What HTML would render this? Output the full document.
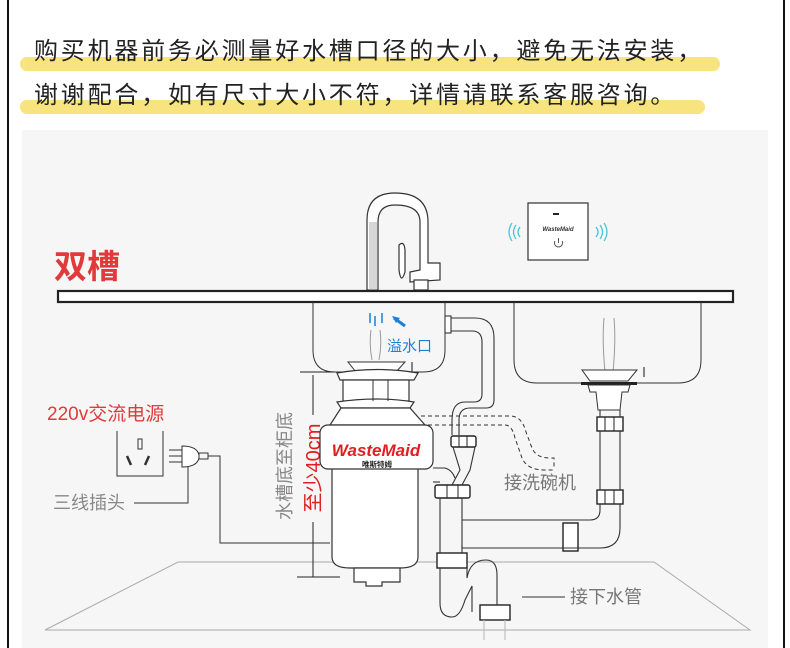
<!DOCTYPE html>
<html><head><meta charset="utf-8"><style>
html,body{margin:0;padding:0;background:#fff;}
body{width:790px;height:648px;overflow:hidden;position:relative;font-family:"Liberation Sans","Noto Sans CJK SC",sans-serif;}
svg{position:absolute;left:0;top:0;}
</style></head><body>
<svg width="790" height="648" viewBox="0 0 790 648" xmlns="http://www.w3.org/2000/svg" font-family="Liberation Sans, Noto Sans CJK SC, sans-serif">
<rect x="0" y="0" width="790" height="648" fill="#fff"/>
<line x1="8" y1="0" x2="8" y2="648" stroke="#111" stroke-width="2"/>
<line x1="784" y1="0" x2="784" y2="648" stroke="#111" stroke-width="2"/>
<rect x="22" y="130" width="746" height="518" fill="#f6f6f6"/>
<rect x="20" y="57" width="700" height="14" rx="7" fill="#f8e47f"/>
<rect x="20" y="100" width="685" height="14" rx="7" fill="#f8e47f"/>
<text x="34" y="59" font-size="24" fill="#222" letter-spacing="2.8">购买机器前务必测量好水槽口径的大小，避免无法安装，</text>
<text x="34" y="103" font-size="24" fill="#222" letter-spacing="2.8">谢谢配合，如有尺寸大小不符，详情请联系客服咨询。</text>

<polygon points="178,562 654,562 750,630 45,630" fill="none" stroke="#aaa" stroke-width="1"/>

<text x="54" y="278" font-size="33" fill="#e23a3a" font-weight="bold">双槽</text>

<g fill="#fff" stroke="#333" stroke-width="1.2">
<path d="M367,290 L367,220 Q367,193 395,193 Q428,193 428,222 L428,263 L440,263 L440,280 L410,282 L410,272 L420,270 L420,222 Q420,205 395,205 Q378,205 378,222 L378,290 Z"/>
<path d="M399,245 Q404,240 405,250 L405,272 Q401,285 399,270 Z"/>
<rect x="414" y="280" width="14" height="10"/>
</g>
<path d="M369,222 L377,222 L377,290 L369,290Z" fill="#bbb" opacity="0.6"/>

<rect x="528" y="203" width="60" height="57" fill="#fff" stroke="#333" stroke-width="1.2"/>
<rect x="553" y="213" width="6" height="2" fill="#222"/>
<text x="558" y="231" font-size="6" font-style="italic" font-weight="bold" text-anchor="middle" fill="#333">WasteMaid</text>
<path d="M555,241 A4,4 0 1 0 562,241" fill="none" stroke="#555" stroke-width="1"/>
<line x1="558.5" y1="238" x2="558.5" y2="243" stroke="#555"/>
<g fill="none" stroke="#4cc4d8" stroke-width="1.3">
<path d="M512,223 Q506,232 512,241"/><path d="M516,225 Q511,232 516,239"/><path d="M520,227 Q516,232 520,237"/>
<path d="M596,227 Q600,232 596,237"/><path d="M600,225 Q605,232 600,239"/><path d="M604,223 Q610,232 604,241"/>
</g>

<rect x="58" y="291" width="675" height="11" fill="#fff" stroke="#222" stroke-width="2.2"/>

<path d="M313,302 L313,350 Q313,372 335,372 L423,372 Q445,372 445,350 L445,302" fill="none" stroke="#333" stroke-width="1"/>
<path d="M514,302 L514,360 Q514,383 537,383 L678,383 Q701,383 701,360 L701,302" fill="none" stroke="#333" stroke-width="1"/>
<g stroke="#1d7fd8" stroke-width="1.5"><line x1="370" y1="313" x2="370" y2="323"/><line x1="375" y1="316" x2="375" y2="326"/><line x1="382" y1="313" x2="382" y2="323"/></g>
<path d="M394,318 L405,326" stroke="#1d7fd8" stroke-width="3"/><path d="M392,316 L400,318 L396,323Z" fill="#1d7fd8"/>
<text x="387" y="351" font-size="15" fill="#1d7fd8">溢水口</text>
<path d="M371,330 Q369,345 372,360 M380,330 Q382,345 379,360" stroke="#999" fill="none"/>
<path d="M604,318 Q602,340 605,372 M614,318 Q616,340 613,372" stroke="#999" fill="none"/>
<path d="M348,362 L405,362 L396,372 L356,372Z" fill="#fff" stroke="#333"/>
<line x1="412" y1="362" x2="412" y2="372" stroke="#111"/>
<path d="M582,370 L637,370 L628,381 L590,381Z" fill="#fff" stroke="#333"/>
<rect x="581" y="382" width="56" height="3" fill="#222"/>
<line x1="644" y1="367" x2="644" y2="377" stroke="#111"/>
<path d="M588,385 L630,385 L628,392 L622,392 L620,410 L598,410 L596,392 L590,392Z" fill="#fff" stroke="#333"/>

<g stroke="#222" stroke-width="1">
<line x1="300" y1="372" x2="335" y2="372"/>
<line x1="313" y1="375" x2="313" y2="415"/>
<line x1="313" y1="522" x2="313" y2="577"/>
<line x1="297" y1="577" x2="340" y2="577"/>
</g>
<text transform="translate(320,468) rotate(-90)" font-size="20" fill="#e02020" text-anchor="middle">至少40cm</text>
<text transform="translate(291,466) rotate(-90)" font-size="18" fill="#888" text-anchor="middle">水槽底至柜底</text>

<g fill="#fff" stroke="#333" stroke-width="1.2">
<path d="M337,373 Q377,366 418,373 L414,380 L340,380Z"/>
<rect x="343" y="380" width="66" height="21"/>
<path d="M337,402 Q377,396 414,402 L410,408 L341,408Z"/>
<path d="M341,408 L410,408 L425,425 L330,425Z"/>
<path d="M332,468 L418,468 L418,557 Q418,568 400,568 L350,568 Q332,568 332,557Z"/>
<rect x="320" y="425" width="113" height="44" rx="8"/>
<path d="M354,568 L400,568 L400,582 L382,582 L382,586 L366,586 L366,582 L354,582Z"/>
</g>
<line x1="373" y1="380" x2="373" y2="401" stroke="#333"/>
<line x1="388" y1="380" x2="388" y2="401" stroke="#333"/>
<text x="376" y="456" font-size="17" font-weight="bold" font-style="italic" fill="#e02020" text-anchor="middle">WasteMaid</text>
<text x="377" y="467" font-size="7.5" font-weight="bold" fill="#222" text-anchor="middle">唯斯特姆</text>

<g fill="none" stroke="#333" stroke-width="1.1">
<path d="M451,318 L475,318 Q494,318 494,338 L494,400 Q494,408 486,408 L470,408 Q459,408 459,420 L459,435"/>
<path d="M451,331 L472,331 Q482,331 482,342 L482,394 Q482,402 474,402 L465,402 Q452,402 452,420 L452,435"/>
<rect x="445" y="316" width="6" height="17" fill="#fff"/>
</g>
<g fill="#fff" stroke="#222" stroke-width="1.4">
<rect x="451" y="436" width="25" height="11" rx="2"/>
<rect x="435" y="485" width="35" height="13" rx="2"/>
<rect x="437" y="553" width="30" height="15"/>
<rect x="480" y="605" width="30" height="15"/>
<rect x="597" y="417" width="26" height="14"/>
<rect x="597" y="490" width="26" height="14"/>
<rect x="563" y="523" width="15" height="28"/>
</g>
<g stroke="#222"><line x1="459" y1="436" x2="459" y2="447"/><line x1="467" y1="436" x2="467" y2="447"/><line x1="447" y1="485" x2="447" y2="498"/><line x1="458" y1="485" x2="458" y2="498"/><line x1="605" y1="417" x2="605" y2="431"/><line x1="614" y1="417" x2="614" y2="431"/><line x1="605" y1="490" x2="605" y2="504"/><line x1="614" y1="490" x2="614" y2="504"/></g>
<g fill="none" stroke="#333" stroke-width="1.1">
<path d="M453,447 L460,470 L452,485 M475,447 L470,470 L462,485"/>
<path d="M433,468 L445,468 Q452,470 455,478"/>
<path d="M433,482 L440,482"/>
<path d="M440,498 L440,553"/>
<path d="M462,498 L462,520 L590,520 Q600,520 600,510 L600,504"/>
<path d="M462,545 L462,548 L600,548 Q620,548 620,528 L620,504"/>
<path d="M600,431 L600,490 M620,431 L620,490 M600,410 L600,417 M620,410 L620,417"/>
<path d="M440,568 L440,603 Q440,617 452,617 Q460,617 465,600 L472,586 L472,612"/>
<path d="M467,568 L467,578 Q470,560 486,560 Q497,560 497,575 L497,605"/>
<path d="M462,520 L462,553"/>
<path d="M484,620 L484,640 M505,620 L505,640" stroke="#bbb"/>
</g>
<g fill="none" stroke="#333" stroke-width="1" stroke-dasharray="4,3">
<path d="M421,416 L510,416 Q522,416 526,432 L532,448 Q536,458 550,458 L554,458 L554,468"/>
<path d="M421,425 L505,425 Q512,425 515,438 L522,458 Q527,470 545,470 L554,470"/>
</g>
<text x="504" y="489" font-size="18" fill="#777">接洗碗机</text>

<text x="47" y="420" font-size="19" fill="#e23a3a">220v交流电源</text>
<path d="M117,431 L117,476 L163,476 L163,431" fill="none" stroke="#333"/>
<rect x="138" y="439" width="4" height="10" fill="none" stroke="#333"/>
<path d="M127,456 L131,465 M149,456 L145,465" stroke="#333" stroke-width="2.5"/>
<g fill="none" stroke="#333">
<path d="M182,446 Q197,446 199,455 L199,458 Q197,467 182,467Z" fill="#fff"/>
<line x1="169" y1="450" x2="182" y2="450"/><line x1="169" y1="456" x2="182" y2="456"/><line x1="169" y1="462" x2="182" y2="462"/>
<rect x="199" y="453" width="9" height="6"/>
<path d="M208,456 L220,456 L220,543 L330,543"/>
<path d="M188,467 L188,503 L134,503"/>
</g>
<text x="53" y="509" font-size="18" fill="#888">三线插头</text>

<line x1="522" y1="597" x2="565" y2="597" stroke="#333"/>
<text x="570" y="603" font-size="18" fill="#777">接下水管</text>
</svg>
</body></html>
